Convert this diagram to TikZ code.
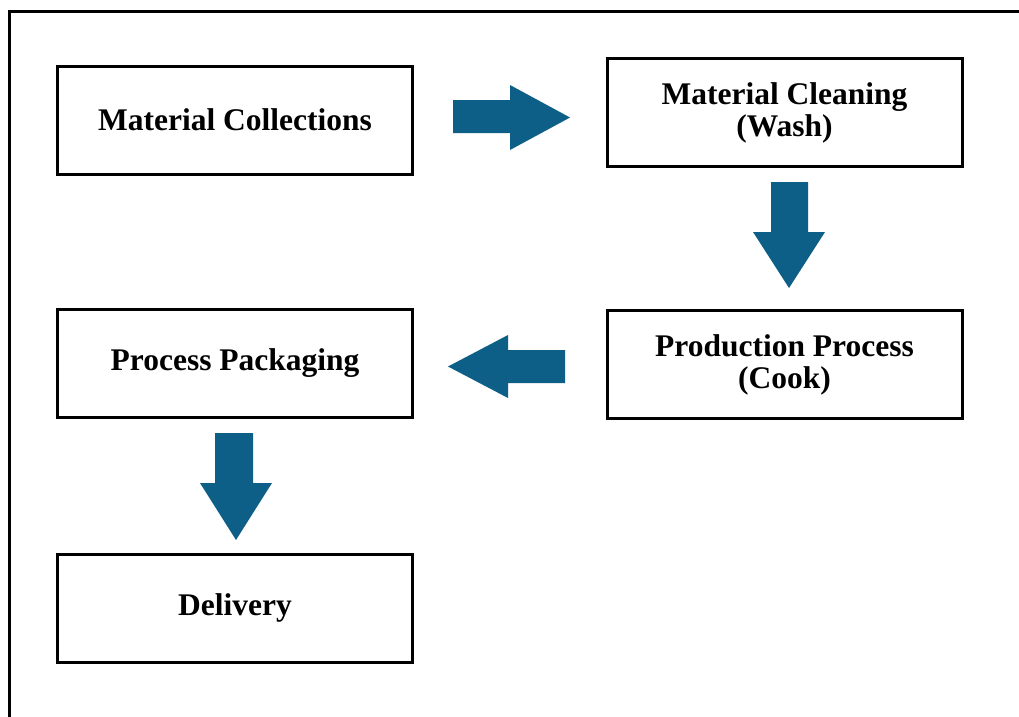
\documentclass[tikz,border=0pt]{standalone}
\usepackage{fontspec}
\setmainfont{Liberation Serif}
\definecolor{arrowblue}{RGB}{14,95,135}
\begin{document}
\begin{tikzpicture}[x=1pt,y=-1pt,
  stepbox/.style={draw=black, line width=3pt, minimum width=355pt, minimum height=108pt,
    inner sep=0pt, align=center, font=\fontsize{31.5}{32}\selectfont\bfseries},
  blockarrow/.style={fill=arrowblue, draw=none}]
\path[use as bounding box] (0,0) rectangle (1019,716);
\clip (0,0) rectangle (1019,716);
\fill[white] (0,0) rectangle (1019,716);
% outer frame (extends beyond right and bottom edges)
\draw[line width=3pt] (9.5,11.3) rectangle (1040,740);
% boxes
\node[stepbox] (b1) at (235,120) {Material Collections};
\node[stepbox] (b2) at (784.5,112.5) {Material Cleaning\\(Wash)};
\node[stepbox] (b3) at (784.5,364.5) {Production Process\\(Cook)};
\node[stepbox] (b4) at (235,363.5) {Process Packaging};
\node[stepbox] (b5) at (235,608) {Delivery};
% block arrows
\fill[blockarrow] (453,100) -- (510,100) -- (510,85) -- (570,117.5) -- (510,150) -- (510,133) -- (453,133) -- cycle;
\fill[blockarrow] (771,182) -- (808,182) -- (808,232) -- (825,232) -- (789,288) -- (753,232) -- (771,232) -- cycle;
\fill[blockarrow] (565,350) -- (508,350) -- (508,335) -- (448,366.5) -- (508,398) -- (508,383) -- (565,383) -- cycle;
\fill[blockarrow] (215,433) -- (253,433) -- (253,483) -- (272,483) -- (236,540) -- (200,483) -- (215,483) -- cycle;
\end{tikzpicture}
\end{document}
